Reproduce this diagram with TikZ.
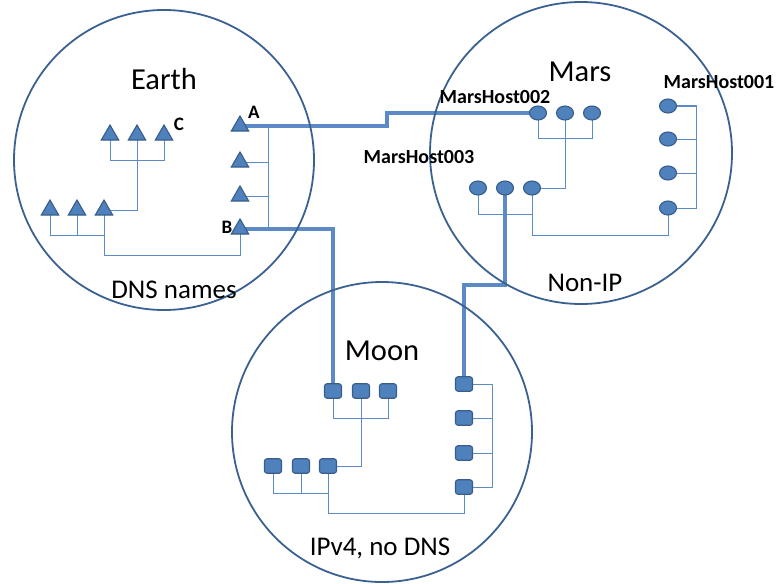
\documentclass[tikz,border=0pt]{standalone}
\usepackage{fontspec}
\setmainfont{Carlito}
\usetikzlibrary{shapes.geometric,backgrounds}
\definecolor{nodefill}{HTML}{4F81BD}
\definecolor{nodeedge}{HTML}{385D8A}
\definecolor{ringcol}{HTML}{3A6192}
\definecolor{wirecol}{HTML}{5B8AC6}
\tikzset{
  ring/.style={draw=ringcol,line width=1.8pt},
  tri/.style={regular polygon,regular polygon sides=3,minimum size=20pt,inner sep=0pt,
              fill=nodefill,draw=nodeedge,line width=1.1pt},
  oval/.style={ellipse,minimum width=17pt,minimum height=14pt,inner sep=0pt,
              fill=nodefill,draw=nodeedge,line width=1.1pt},
  box/.style={rectangle,rounded corners=2.5pt,minimum width=17pt,minimum height=14.5pt,inner sep=0pt,
              fill=nodefill,draw=nodeedge,line width=1.1pt},
  wire/.style={draw=wirecol,line width=1pt},
  trunk/.style={draw=wirecol,line width=3.2pt},
  title/.style={font=\fontsize{30.5}{32}\selectfont,inner sep=0pt},
  caption/.style={font=\fontsize{27}{29}\selectfont,inner sep=0pt},
  tag/.style={font=\bfseries\fontsize{20}{22}\selectfont,inner sep=0pt},
  letter/.style={font=\bfseries\fontsize{19}{21}\selectfont,inner sep=0pt}
}
\begin{document}
\begin{tikzpicture}[x=1pt,y=-1pt]
\useasboundingbox (0,0) rectangle (783,583);

% the three networks
\draw[ring] (164,160) circle (150);
\draw[ring] (581,153) circle (151);
\draw[ring] (382,432) circle (150);

% Earth: triangles
\node[tri] (t1) at (110,135) {};
\node[tri] (t2) at (137,135) {};
\node[tri] (t3) at (164,135) {};
\node[tri] (l1) at (50,210) {};
\node[tri] (l2) at (77,210) {};
\node[tri] (l3) at (104,210) {};
\node[tri] (ea) at (240,126) {};
\node[tri] (e2) at (240,162) {};
\node[tri] (e3) at (240,196) {};
\node[tri] (eb) at (240,229) {};
\coordinate (busE) at (268,0);

% Mars: ellipses
\node[oval] (ma1) at (538,113) {};
\node[oval] (ma2) at (565,113) {};
\node[oval] (ma3) at (592,113) {};
\node[oval] (mb1) at (478,188) {};
\node[oval] (mb2) at (505,188) {};
\node[oval] (mb3) at (532,188) {};
\node[oval] (mc1) at (668,106) {};
\node[oval] (mc2) at (668,139) {};
\node[oval] (mc3) at (668,173) {};
\node[oval] (mc4) at (668,208) {};
\coordinate (busM) at (696,0);

% Moon: rounded squares
\node[box] (qa1) at (333,391) {};
\node[box] (qa2) at (361,391) {};
\node[box] (qa3) at (388,391) {};
\node[box] (qb1) at (273,466) {};
\node[box] (qb2) at (301,466) {};
\node[box] (qb3) at (328,466) {};
\node[box] (qc1) at (464,384) {};
\node[box] (qc2) at (464,418) {};
\node[box] (qc3) at (464,453) {};
\node[box] (qc4) at (464,487) {};
\coordinate (busQ) at (492,0);

% links between networks
\coordinate (stepA) at (387,113);
\coordinate (stepQ) at (464,285);

\begin{pgfonlayer}{background}
  % Earth tree
  \draw[wire] (t1.center) |- (t3.center |- 0,160) -- (t3.center);
  \draw[wire] (t2.center) |- (l3.center);
  \draw[wire] (l1.center) |- (l3.center |- 0,235);
  \draw[wire] (l2.center) -- (l2.center |- 0,235);
  \draw[wire] (l3.center) |- (eb.center |- 0,255) -- (eb.center);
  \draw[wire] (ea.center -| busE) -- (eb.center -| busE);
  \draw[wire] (e2.center) -- (e2.center -| busE);
  \draw[wire] (e3.center) -- (e3.center -| busE);
  % Mars tree
  \draw[wire] (ma1.center) |- (ma3.center |- 0,138) -- (ma3.center);
  \draw[wire] (ma2.center) |- (mb3.center);
  \draw[wire] (mb1.center) |- (mb3.center |- 0,214);
  \draw[wire] (mb3.center) |- (mc4.center |- 0,235) -- (mc4.center);
  \draw[wire] (mc1.center) -- (mc1.center -| busM) -- (mc4.center -| busM) -- (mc4.center);
  \draw[wire] (mc2.center) -- (mc2.center -| busM);
  \draw[wire] (mc3.center) -- (mc3.center -| busM);
  % Moon tree
  \draw[wire] (qa1.center) |- (qa3.center |- 0,418) -- (qa3.center);
  \draw[wire] (qa2.center) |- (qb3.center);
  \draw[wire] (qb1.center) |- (qb3.center |- 0,493);
  \draw[wire] (qb2.center) -- (qb2.center |- 0,493);
  \draw[wire] (qb3.center) |- (qc4.center |- 0,513) -- (qc4.center);
  \draw[wire] (qc1.center) -- (qc1.center -| busQ) -- (qc4.center -| busQ) -- (qc4.center);
  \draw[wire] (qc2.center) -- (qc2.center -| busQ);
  \draw[wire] (qc3.center) -- (qc3.center -| busQ);
  % trunks
  \draw[trunk] (ea.center) -- (ea.center -| stepA) -- (stepA) -- (ma1.center);
  \draw[trunk] (eb.center) -| (qa1.center);
  \draw[trunk] (mb2.center) |- (stepQ) -- (qc1.center);
\end{pgfonlayer}

% names and captions
\node[title] (nEarth) at (164,79) {Earth};
\node[caption] (cEarth) at (174,290) {DNS names};
\node[title] (nMars) at (580,72) {Mars};
\node[caption] (cMars) at (585,283) {Non-IP};
\node[title] (nMoon) at (382,351) {Moon};
\node[caption] (cMoon) at (380,548) {IPv4, no DNS};

\node[letter] (lA) at (254,112) {A};
\node[letter] (lB) at (227,227) {B};
\node[letter] (lC) at (179,124) {C};
\node[tag] (h2) at (495,97) {MarsHost002};
\node[tag] (h1) at (719,82) {MarsHost001};
\node[tag] (h3) at (419,157) {MarsHost003};
\end{tikzpicture}
\end{document}
